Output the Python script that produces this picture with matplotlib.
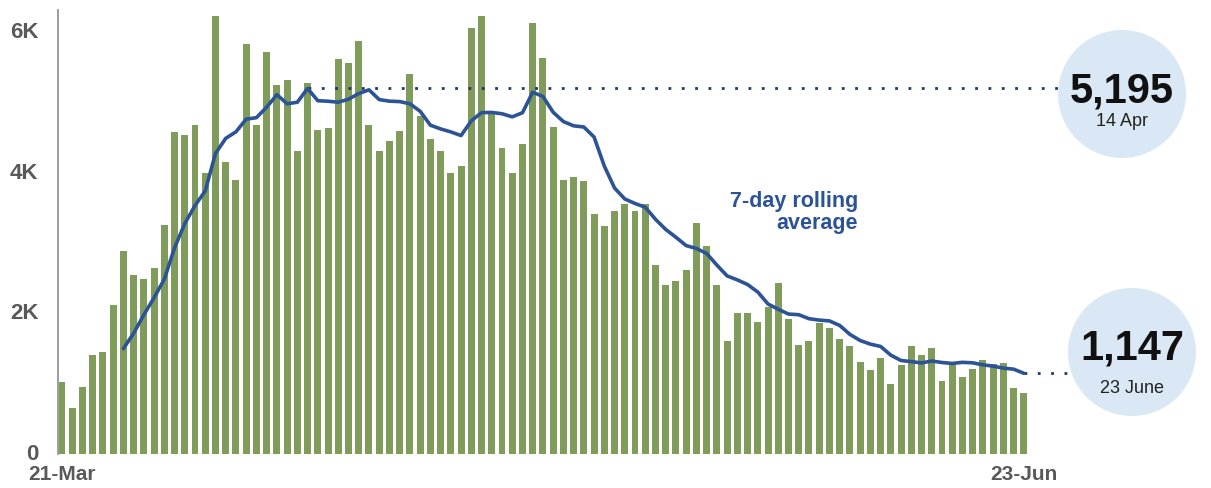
import numpy as np
import pandas as pd
import matplotlib
matplotlib.use("Agg")
import matplotlib.pyplot as plt
import matplotlib.transforms as mtransforms
from matplotlib.patches import Ellipse

plt.rcParams['font.family'] = ['Liberation Sans', 'DejaVu Sans']

# Daily counts from 21 March onwards
start_date = "2020-03-21"
daily_cases = [
    1020, 650, 950, 1410, 1450, 2120, 2880, 2550, 2490, 2650,
    3250, 4570, 4530, 4680, 4000, 6220, 4150, 3900, 5830, 4680,
    5720, 5250, 5310, 4305, 5270, 4610, 4630, 5620, 5550, 5870,
    4680, 4300, 4450, 4590, 5400, 4810, 4480, 4310, 4000, 4090,
    6050, 6220, 4830, 4350, 4000, 4410, 6130, 5630, 4650, 3900,
    3930, 3880, 3410, 3240, 3450, 3560, 3450, 3560, 2680, 2400,
    2460, 2620, 3280, 2950, 2400, 1610, 2000, 2000, 1870, 2090,
    2430, 1920, 1550, 1600, 1860, 1790, 1640, 1540, 1310, 1190,
    1370, 990, 1260, 1530, 1410, 1500, 1040, 1280, 1100, 1210,
    1330, 1280, 1300, 940, 869,
]
x_tick_labels = ["21-Mar", "23-Jun"]
y_ticks = [0, 2000, 4000, 6000]
y_tick_labels = ["0", "2K", "4K", "6K"]
peak_date_label = "14 Apr"
latest_date_label = "23 June"
line_label_lines = ["7-day rolling", "average"]

dates = pd.date_range(start_date, periods=len(daily_cases), freq="D")
cases = pd.Series(daily_cases, index=dates, dtype=float)
rolling = cases.rolling(7).mean()

W, H = 1211, 488
fig = plt.figure(figsize=(W / 100, H / 100), dpi=100)
ax = fig.add_axes([58 / W, (H - 454) / H, (1030 - 58) / W, (454 - 10) / H])

x = np.arange(len(cases))
bar_color = "#7f9c5b"
line_color = "#2c5395"
dot_color = "#1f3864"
ax.bar(x, cases.values, width=0.68, color=bar_color, zorder=2)
ax.plot(x, rolling.values, color=line_color, lw=2.6, zorder=4,
        solid_capstyle="round", solid_joinstyle="round")

ax.set_xlim(-0.39, 94.6)
ax.set_ylim(0, 6310)

for side in ("top", "right", "bottom"):
    ax.spines[side].set_visible(False)
ax.spines["left"].set_color("#8c8c8c")
ax.spines["left"].set_linewidth(1.2)

ax.set_yticks(y_ticks)
ax.set_yticklabels(y_tick_labels)
ax.set_xticks([0, len(cases) - 1])
ax.set_xticklabels(x_tick_labels)
ax.tick_params(axis="both", length=0, labelsize=16, labelcolor="#595959")
ax.tick_params(axis="y", pad=14)
ax.tick_params(axis="x", labelsize=15, pad=7.9)
for lbl in ax.get_xticklabels() + ax.get_yticklabels():
    lbl.set_fontweight("bold")

# nudge the y labels up slightly so "0" clears the date label below it
lift = mtransforms.ScaledTranslation(0, 0.02, fig.dpi_scale_trans)
for tick in ax.yaxis.get_major_ticks():
    tick.label1.set_transform(tick.label1.get_transform() + lift)

# Callout circles in figure coordinates
to_data_x = lambda px: ax.transData.inverted().transform(
    fig.transFigure.transform((px / W, 0)))[0]

circle_color = "#dae8f5"
r = 64
peak_idx = int(np.nanargmax(rolling.values))
peak_val = rolling.iloc[peak_idx]
last_idx = len(rolling) - 1
last_val = rolling.iloc[-1]

# (index, value, circle centre x/y in px, number baseline, sub-label baseline, sub-label)
callouts = [
    (peak_idx, peak_val, 1122, 94, 102, 126, peak_date_label),
    (last_idx, last_val, 1132, 352, 360, 393, latest_date_label),
]
for idx, val, cx, cy, num_base, sub_base, sub in callouts:
    ax.plot([idx, to_data_x(cx)], [val, val], color=dot_color, lw=2,
            linestyle=(0, (1, 3.8)), clip_on=False, zorder=3)
    fig.patches.append(Ellipse((cx / W, 1 - cy / H), 2 * r / W, 2 * r / H,
                               transform=fig.transFigure, facecolor=circle_color,
                               edgecolor="none", zorder=5))
    fig.text(cx / W, 1 - num_base / H, f"{val:,.0f}", ha="center", va="baseline",
             fontsize=30, fontweight="bold", color="#111111", zorder=6)
    fig.text(cx / W, 1 - sub_base / H, sub, ha="center", va="baseline",
             fontsize=13, color="#222222", zorder=6)

# Label for the rolling line
fig.text(858 / W, 1 - 207 / H, line_label_lines[0], ha="right", va="baseline",
         fontsize=15.5, fontweight="bold", color=line_color)
fig.text(858 / W, 1 - 229 / H, line_label_lines[1], ha="right", va="baseline",
         fontsize=15.5, fontweight="bold", color=line_color)

fig.savefig("out.png", dpi=100)
